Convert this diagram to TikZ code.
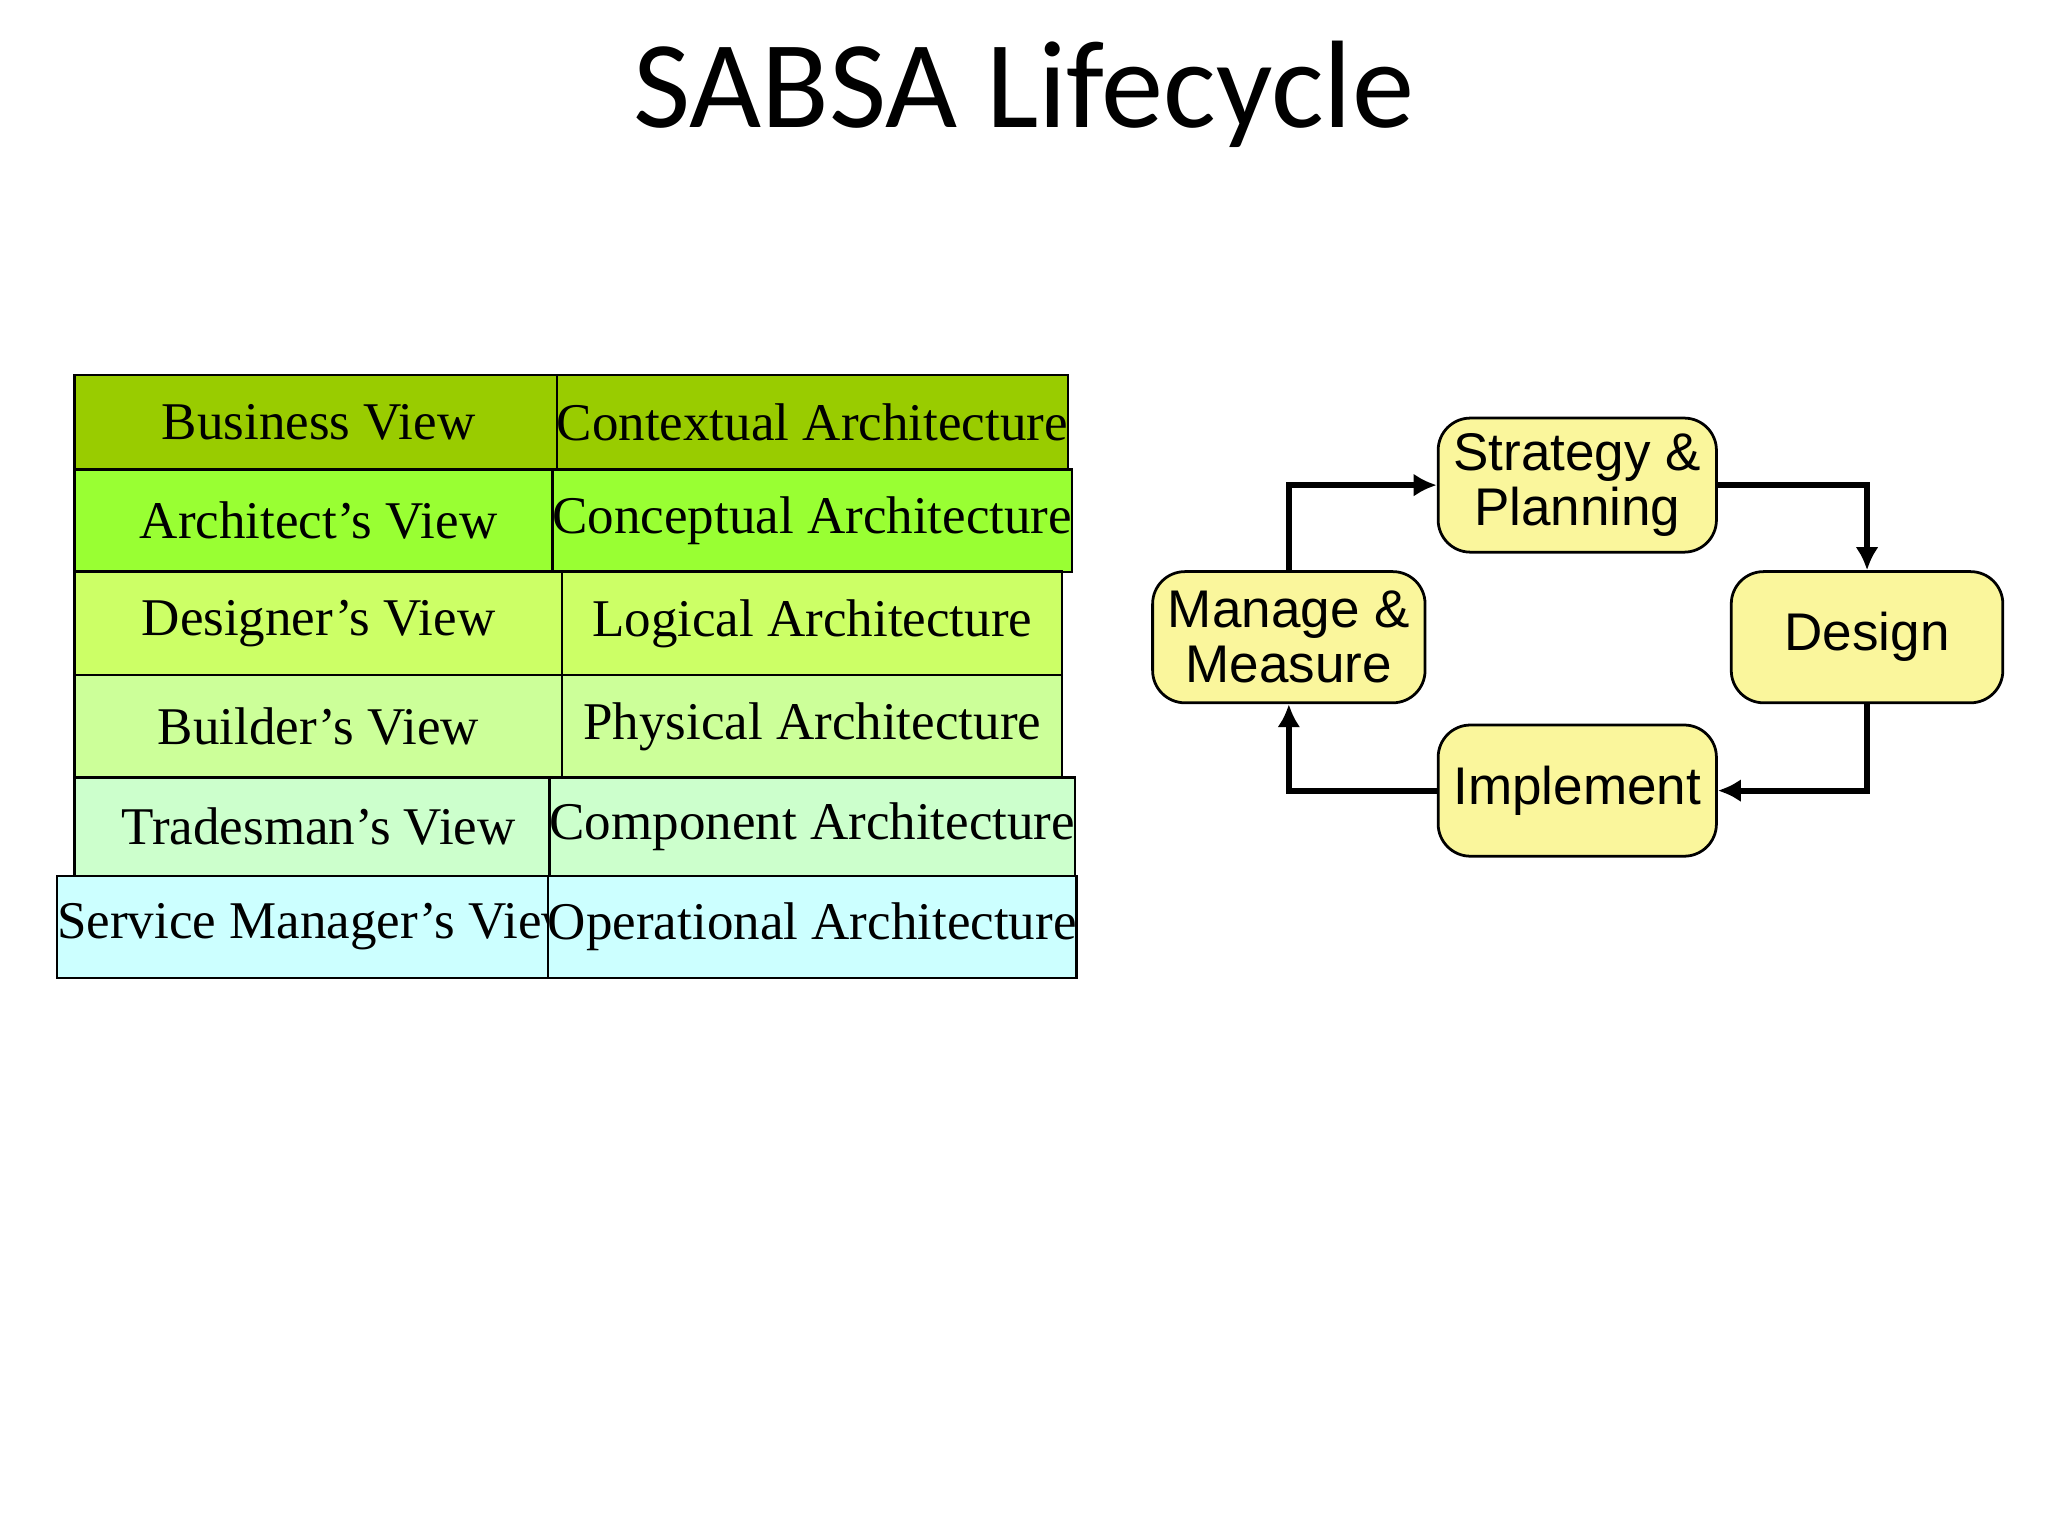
\documentclass[tikz,border=0pt]{standalone}
\usepackage{fontspec}
\setmainfont{Liberation Serif}
\newfontfamily\titlefont{Carlito}
\newfontfamily\boxfont{Liberation Sans}
\usetikzlibrary{arrows.meta, positioning, calc}
\definecolor{RowA}{HTML}{99CC00}
\definecolor{RowB}{HTML}{99FF33}
\definecolor{RowC}{HTML}{CCFF66}
\definecolor{RowD}{HTML}{CCFF99}
\definecolor{RowE}{HTML}{CCFFCC}
\definecolor{RowF}{HTML}{CCFFFF}
\definecolor{PhaseFill}{HTML}{FAF69C}

\begin{document}
\begin{tikzpicture}[x=0.01cm, y=-0.01cm]
	\tikzstyle{cell} = [draw, line width=.5pt, minimum width=3.72cm, inner sep=0pt, font=\fontsize{11.5}{13}\selectfont]
	\tikzstyle{phase} = [draw, line width=.6pt, rounded corners=7pt, fill=PhaseFill, minimum width=2.07cm, minimum height=1cm, align=center, font=\boxfont\fontsize{11.5}{12}\selectfont]
	\tikzstyle{flow} = [line width=1.3pt, -{Latex[length=5pt, width=5pt]}, rounded corners=0pt]
	\useasboundingbox (0,0) rectangle (1562,1170);

	\node[font=\titlefont\fontsize{27}{30}\selectfont] (title) at (781,72) {SABSA Lifecycle};

	% table rows
	\node[cell, fill=RowA, minimum height=0.72cm] (v1) at (243,322) {Business View};
	\node[cell, fill=RowA, minimum height=0.72cm, minimum width=3.81cm] (a1) at (619.5,322) {Contextual Architecture};
	\node[cell, fill=RowB, minimum height=0.78cm] (v2) at (243,397) {Architect’s View};
	\node[cell, fill=RowB, minimum height=0.78cm, minimum width=3.81cm] (a2) at (619.5,397) {Conceptual Architecture};
	\node[cell, fill=RowC, minimum height=0.79cm] (v3) at (243,475.5) {Designer’s View};
	\node[cell, fill=RowC, minimum height=0.79cm, minimum width=3.81cm] (a3) at (619.5,475.5) {Logical Architecture};
	\node[cell, fill=RowD, minimum height=0.78cm] (v4) at (243,554) {Builder’s View};
	\node[cell, fill=RowD, minimum height=0.78cm, minimum width=3.81cm] (a4) at (619.5,554) {Physical Architecture};
	\node[cell, fill=RowE, minimum height=0.75cm] (v5) at (243,630.5) {Tradesman’s View};
	\node[cell, fill=RowE, minimum height=0.75cm, minimum width=3.81cm] (a5) at (619.5,630.5) {Component Architecture};
	\node[cell, fill=RowF, minimum height=0.78cm] (v6) at (243,707) {Service Manager’s View};
	\node[cell, fill=RowF, minimum height=0.78cm, minimum width=3.81cm] (a6) at (619.5,707) {Operational Architecture};

	% lifecycle
	\node[phase] (plan) at (1203,370) {Strategy \&\\Planning};
	\node[phase] (manage) at (983,486) {Manage \&\\Measure};
	\node[phase] (design) at (1424,486) {Design};
	\node[phase] (impl) at (1203,603) {Implement};

	\draw[flow] (manage.north) |- (plan.west);
	\draw[flow] (plan.east) -| (design.north);
	\draw[flow] (design.south) |- (impl.east);
	\draw[flow] (impl.west) -| (manage.south);
\end{tikzpicture}
\end{document}
